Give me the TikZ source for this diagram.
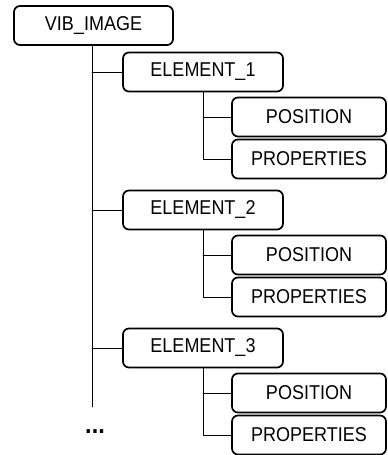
\documentclass[tikz,border=0pt]{standalone}
\usepackage{fontspec}
\setmainfont{Liberation Sans}[FakeStretch=0.9]
\begin{document}
\begin{tikzpicture}[x=1pt,y=-1pt,font=\fontsize{20}{20}\selectfont, line join=round, line cap=round,
		box/.style={draw,line width=1.7pt,rounded corners=6pt,minimum height=39pt,inner sep=0pt},
		link/.style={line width=0.6pt}]
	\useasboundingbox (0,0) rectangle (388,455);
	\node[box,minimum width=159pt] (vib) at (93.5,25.5) {VIB\_IMAGE};
	\coordinate (end) at (92,407);
	\foreach \i/\y in {1/72,2/210,3/348}{
		\node[box,minimum width=160pt] (el\i) at (203,\y) {ELEMENT\_\i};
		\node[box,minimum width=154pt] (pos\i) at (309,\y+45) {POSITION};
		\node[box,minimum width=154pt] (prop\i) at (309,\y+87) {PROPERTIES};
		\draw[link] (end |- el\i.west) -- (el\i.west);
		\draw[link] (el\i.south) |- (prop\i.west);
		\draw[link] (el\i.south |- pos\i.west) -- (pos\i.west);
	}
	\draw[link] (vib.south -| end) -- (end);
	\node[font=\fontsize{26}{26}\selectfont\bfseries] (dots) at (95,432) {...};
\end{tikzpicture}
\end{document}
